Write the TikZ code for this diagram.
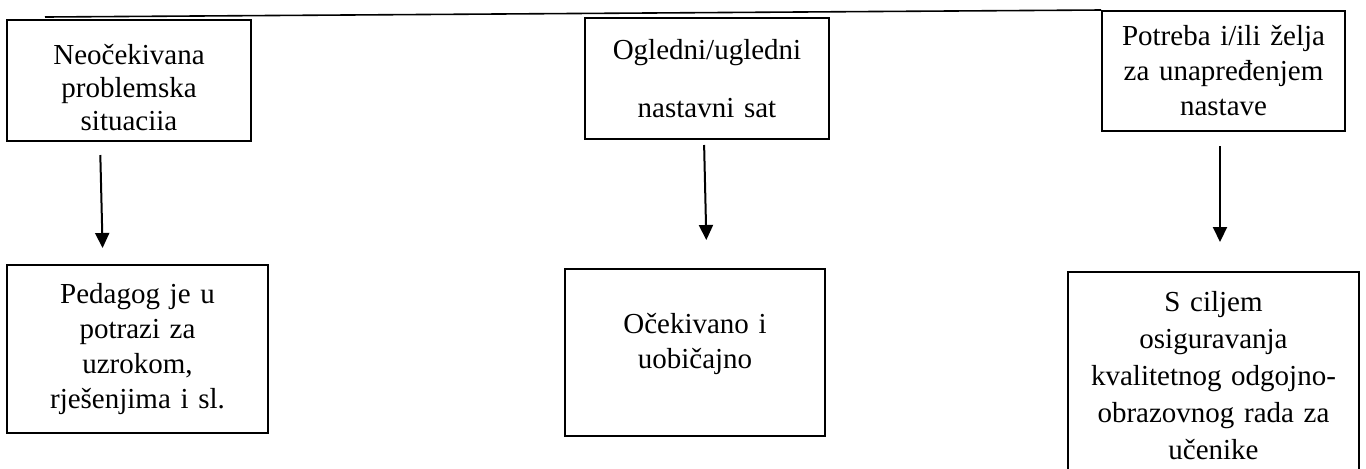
\documentclass[tikz,border=0pt]{standalone}
\usepackage{fontspec}
\setmainfont{Liberation Serif}
\usetikzlibrary{arrows.meta}
\begin{document}
\begin{tikzpicture}[x=0.5pt,y=-0.5pt,
    okvir/.style={draw,line width=1pt,align=center,inner sep=0pt,font=\fontsize{14.5}{17.5}\selectfont},
    strelica/.style={line width=1pt,-{Triangle[width=7pt,length=7.5pt]}}]
    \useasboundingbox (0,0) rectangle (1366,468);
    \node[okvir,text width=122pt,minimum height=60.5pt,text height=16.9pt,font=\fontsize{14.5}{16.5}\selectfont] (neocekivana) at (129,80.5) {Neočekivana\\problemska\\situaciia};
    \node[okvir,text width=122pt,minimum height=60.5pt] (ogledni) at (707,78.5) {Ogledni/ugledni\\[11.5pt]nastavni sat};
    \node[okvir,text width=121.5pt,minimum height=60pt] (potreba) at (1223.5,71) {Potreba i/ili želja\\za unapređenjem\\nastave};
    \node[okvir,text width=130.5pt,minimum height=84pt] (pedagog) at (137.5,349) {Pedagog je u\\potrazi za\\uzrokom,\\rješenjima i sl.};
    \node[okvir,text width=130pt,minimum height=83.5pt,text depth=29pt] (ocekivano) at (695,352.5) {Očekivano i\\uobičajno};
    \node[okvir,text width=145.5pt,minimum height=104pt,font=\fontsize{14.5}{18.5}\selectfont] (ciljem) at (1213.5,376) {S ciljem\\osiguravanja\\kvalitetnog odgojno-\\obrazovnog rada za\\učenike};
    \coordinate (crta) at (45,17);
    \draw[line width=0.8pt] (crta) -- (potreba.north west);
    \draw[strelica,shorten <=6.5pt,shorten >=8pt] ([xshift=-14.5pt]neocekivana.south) -- ([xshift=-17.25pt]pedagog.north);
    \draw[strelica,shorten <=2.5pt,shorten >=14pt] ([xshift=-1.5pt]ogledni.south) -- ([xshift=6pt]ocekivano.north);
    \draw[strelica,shorten <=7pt,shorten >=14.5pt] ([xshift=-1.75pt]potreba.south) -- ([xshift=3.25pt]ciljem.north);
\end{tikzpicture}
\end{document}
